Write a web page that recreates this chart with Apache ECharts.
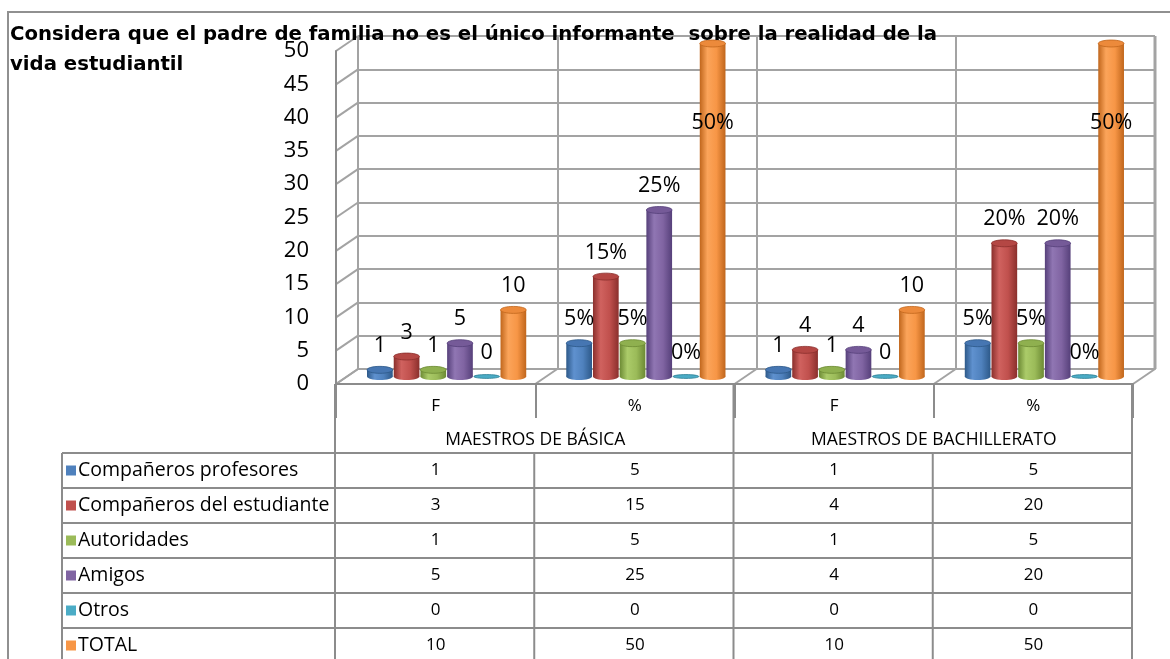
<!DOCTYPE html>
<html><head><meta charset="utf-8">
<script src="https://cdn.jsdelivr.net/npm/echarts@6/dist/echarts.min.js"></script>
<style>html,body{margin:0;padding:0;background:#fff}#c{width:1170px;height:659px}</style>
</head><body><div id="c"></div>
<script>
// ---------- DATA ----------
const titleLines = ['Considera que el padre de familia no es el único informante  sobre la realidad de la', 'vida estudiantil'];
const categories = ['F', '%', 'F', '%'];
const groups = ['MAESTROS DE BÁSICA', 'MAESTROS DE BACHILLERATO'];
const seriesNames = ['Compañeros profesores', 'Compañeros del estudiante', 'Autoridades', 'Amigos', 'Otros', 'TOTAL'];
const profesores = [1, 5, 1, 5];
const estudiante = [3, 15, 4, 20];
const autoridades = [1, 5, 1, 5];
const amigos = [5, 25, 4, 20];
const otros = [0, 0, 0, 0];
const total = [10, 50, 10, 50];
const seriesValues = [profesores, estudiante, autoridades, amigos, otros, total];
const yMin = 0, yMax = 50, yStep = 5;

// ---------- STYLE / LAYOUT ----------
const FONT = '"Open Sans", Lato, sans-serif';
const TITLE_FONT = '"DejaVu Sans", "Open Sans", sans-serif';
const palette = [
  {base:'#4F81BD', dark:'#2d5989', light:'#5f91cf', top:'#4676b2'},
  {base:'#C0504D', dark:'#8a2f2c', light:'#d0625f', top:'#b44744'},
  {base:'#9BBB59', dark:'#6c8a34', light:'#abcb69', top:'#8fb04f'},
  {base:'#8064A2', dark:'#56407a', light:'#9076b3', top:'#755a98'},
  {base:'#4BACC6', dark:'#2b7d93', light:'#5dbdd6', top:'#40a0ba'},
  {base:'#F79646', dark:'#c0661c', light:'#fba45a', top:'#ec8a3b'}
];
const GRID_COL = '#a3a3a3';
const AXIS_COL = '#8c8c8c';
const FX0 = 336, FW = 797, FY50 = 51, FH = 333;   // front plane
const DX = 22, DY = 15;                            // depth offset
const TL = 62, TY = 453, RH = 35, TBOT = 659;      // table
const BAR_FRAC = 0.134;

const W = 1170, H = 659;
const chart = echarts.init(document.getElementById('c'), null, {renderer: 'canvas'});

function makeRender(si) {
  return function (params, api) {
    const cat = api.value(0), val = api.value(1);
    const base = api.coord([cat, 0]);
    const top = api.coord([cat, val]);
    const cw = api.size([1, 0])[0];
    const bw = cw * BAR_FRAC;
    const cx = base[0] + (si - 2.5) * bw;
    const rx = bw / 2 - 0.5, ry = bw * 0.13;
    const c = palette[si];
    const grad = new echarts.graphic.LinearGradient(0, 0, 1, 0, [
      {offset: 0, color: c.dark}, {offset: 0.3, color: c.light},
      {offset: 0.65, color: c.base}, {offset: 1, color: c.dark}]);
    const ch = [];
    if (val > 0) {
      ch.push({type: 'ellipse', shape: {cx: cx, cy: base[1], rx: rx, ry: ry}, style: {fill: grad}});
      ch.push({type: 'rect', shape: {x: cx - rx, y: top[1], width: 2 * rx, height: base[1] - top[1]}, style: {fill: grad}});
      ch.push({type: 'ellipse', shape: {cx: cx, cy: top[1], rx: rx, ry: ry}, style: {fill: c.top, stroke: c.dark, lineWidth: 0.8}});
    } else {
      ch.push({type: 'ellipse', shape: {cx: cx, cy: base[1], rx: rx, ry: ry * 0.55}, style: {fill: c.base, stroke: c.dark, lineWidth: 0.8}});
    }
    const txt = val + (categories[cat] === '%' ? '%' : '');
    let ly = top[1] - 24;
    if (ly - 10 < params.coordSys.y) ly = top[1] + 79;
    ch.push({type: 'text', z2: 100, style: {text: txt, x: cx, y: ly, textAlign: 'center', textVerticalAlign: 'middle', font: '21.5px ' + FONT, fill: '#000'}});
    return {type: 'group', children: ch};
  };
}

// ---------- GRAPHIC (frame + table) ----------
const g = [];
function line(x1, y1, x2, y2, col, w) {
  g.push({type: 'line', shape: {x1: x1, y1: y1, x2: x2, y2: y2}, style: {stroke: col || AXIS_COL, lineWidth: w || 2}, silent: true});
}
function text(t, x, y, align, size, weight) {
  g.push({type: 'text', style: {text: t, x: x, y: y, textAlign: align || 'center', textVerticalAlign: 'middle', font: (weight || 'normal') + ' ' + (size || 16) + 'px ' + FONT, fill: '#000'}, silent: true});
}
// outer border
g.push({type: 'polyline', shape: {points: [[8, H], [8, 12], [W, 12]]}, style: {stroke: '#909090', lineWidth: 2, fill: null}, silent: true});
// side wall diagonals
const nSteps = (yMax - yMin) / yStep;
for (let k = 0; k <= nSteps; k++) {
  const y = FY50 + FH - k * FH / nSteps;
  line(FX0, y, FX0 + DX, y - DY, GRID_COL, 2);
}
// floor diagonals at category boundaries
const cwF = FW / categories.length;
for (let k = 0; k <= categories.length; k++) {
  const x = FX0 + k * cwF;
  line(x, FY50 + FH, x + DX, FY50 + FH - DY, GRID_COL, 2);
}
// back wall edges
line(FX0 + DX, FY50 - DY, FX0 + DX, FY50 + FH - DY, GRID_COL, 2);
line(FX0 + DX + FW, FY50 - DY, FX0 + DX + FW, FY50 + FH - DY, GRID_COL, 3);
// table / category area lines
for (let k = 0; k <= categories.length; k++) {
  const x = FX0 - 1 + k * cwF;
  if (k % 2 === 0) line(x, FY50 + FH, x, TBOT, AXIS_COL, 2);
  else line(x, TY, x, TBOT, AXIS_COL, 2);
}
line(TL, TY, TL, TBOT, AXIS_COL, 2);
for (let r = 0; r < seriesNames.length; r++) {
  line(TL, TY + r * RH, FX0 - 1 + FW, TY + r * RH, AXIS_COL, 2);
}
// group labels
groups.forEach(function (gname, i) {
  text(gname, FX0 + (2 * i + 1) * cwF, 440, 'center', 17.5);
});
// rows
seriesNames.forEach(function (name, r) {
  const cy = TY + r * RH + RH / 2;
  g.push({type: 'rect', shape: {x: TL + 4, y: cy - 5, width: 10, height: 10}, style: {fill: palette[r].base}, silent: true});
  text(name, TL + 16, cy, 'left', 19.5);
  seriesValues[r].forEach(function (v, ci) {
    text(String(v), FX0 + (ci + 0.5) * cwF, cy, 'center', 17);
  });
});

// ---------- OPTION ----------
const option = {
  animation: false,
  backgroundColor: '#fff',
  title: {
    text: titleLines.join('\n'), left: 5, top: 15,
    textStyle: {fontFamily: TITLE_FONT, fontSize: 19.7, fontWeight: 'bold', color: '#000', lineHeight: 30}
  },
  grid: [
    {left: FX0 + DX, top: FY50 - DY, width: FW, height: FH, containLabel: false},
    {left: FX0 + DX / 2, top: FY50 - DY / 2, width: FW, height: FH, containLabel: false},
    {left: FX0, top: FY50, width: FW, height: FH, containLabel: false}
  ],
  xAxis: [
    {gridIndex: 0, type: 'category', data: categories, axisLabel: {show: false}, axisTick: {show: false},
      axisLine: {show: true, lineStyle: {color: GRID_COL, width: 2}},
      splitLine: {show: true, interval: 0, lineStyle: {color: GRID_COL, width: 2}}},
    {gridIndex: 1, type: 'category', data: categories, show: false},
    {gridIndex: 2, type: 'category', data: categories,
      axisLine: {show: true, lineStyle: {color: AXIS_COL, width: 2}},
      axisTick: {show: true, interval: 0, length: 34, lineStyle: {color: AXIS_COL, width: 2}},
      axisLabel: {show: true, interval: 0, margin: 14, fontSize: 17, fontFamily: FONT, color: '#000'},
      splitLine: {show: false}}
  ],
  yAxis: [
    {gridIndex: 0, type: 'value', min: yMin, max: yMax, interval: yStep, axisLabel: {show: false},
      axisLine: {show: false}, axisTick: {show: false},
      splitLine: {show: true, lineStyle: {color: GRID_COL, width: 2}}},
    {gridIndex: 1, type: 'value', min: yMin, max: yMax, interval: yStep, show: false, splitLine: {show: false}},
    {gridIndex: 2, type: 'value', min: yMin, max: yMax, interval: yStep,
      axisLine: {show: true, lineStyle: {color: AXIS_COL, width: 2}}, axisTick: {show: false},
      axisLabel: {show: true, margin: 27, fontSize: 22, fontFamily: FONT, color: '#000'},
      splitLine: {show: false}}
  ],
  graphic: {elements: g},
  series: seriesValues.map(function (vals, si) {
    return {
      name: seriesNames[si], type: 'custom', xAxisIndex: 1, yAxisIndex: 1, z: 3,
      renderItem: makeRender(si), encode: {x: 0, y: 1},
      data: vals.map(function (v, i) { return [i, v]; })
    };
  })
};
chart.setOption(option);
</script></body></html>
